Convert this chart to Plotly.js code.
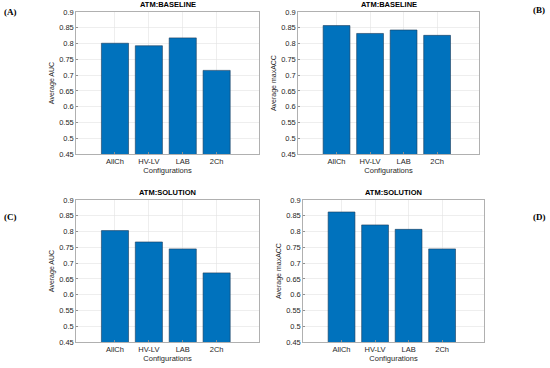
<!DOCTYPE html>
<html><head><meta charset="utf-8">
<script src="https://cdn.plot.ly/plotly-3.0.1.min.js"></script>
<style>html,body{margin:0;padding:0;background:#fff}#chart{width:550px;height:368px}</style>
</head><body><div id="chart"></div>
<script>
const categories = ["AllCh", "HV-LV", "LAB", "2Ch"];
const baselineAUC = [0.801, 0.793, 0.818, 0.715];
const baselineMaxACC = [0.857, 0.832, 0.843, 0.826];
const solutionAUC = [0.803, 0.767, 0.745, 0.669];
const solutionMaxACC = [0.862, 0.821, 0.807, 0.745];
const panelTitles = ["ATM:BASELINE", "ATM:BASELINE", "ATM:SOLUTION", "ATM:SOLUTION"];
const yTitles = ["Average AUC", "Average maxACC", "Average AUC", "Average maxACC"];
const panelLabels = ["(A)", "(B)", "(C)", "(D)"];
const yTicks = [0.45, 0.5, 0.55, 0.6, 0.65, 0.7, 0.75, 0.8, 0.85, 0.9];
const yTickText = ["0.45", "0.5", "0.55", "0.6", "0.65", "0.7", "0.75", "0.8", "0.85", "0.9"];

const series = [baselineAUC, baselineMaxACC, solutionAUC, solutionMaxACC];
const W = 550, H = 368;
const xDom = [[76, 259], [298, 479], [76, 259], [303, 484]];
const yDom = [[12, 154], [12, 154], [200, 342], [200, 342]];
const labelPos = [[10, 12], [539, 10], [10, 217], [539, 217]];

const font = "Liberation Sans, Arial, sans-serif";
const traces = [];
const layout = {
  width: W, height: H, margin: {l: 0, r: 0, t: 0, b: 0},
  paper_bgcolor: "#fff", plot_bgcolor: "#fff", showlegend: false,
  font: {family: font, size: 7.5, color: "#262626"},
  annotations: [], bargap: 0.2
};
series.forEach((vals, i) => {
  const n = i + 1;
  const xa = "x" + (n === 1 ? "" : n), ya = "y" + (n === 1 ? "" : n);
  traces.push({
    type: "bar", x: categories.map((c, k) => k), y: vals,
    xaxis: xa, yaxis: ya, width: 0.8,
    marker: {color: "#0072BD", line: {color: "#1a3a5a", width: 0.6}},
    hoverinfo: "skip"
  });
  const xk = "xaxis" + (n === 1 ? "" : n), yk = "yaxis" + (n === 1 ? "" : n);
  layout[xk] = {
    domain: [xDom[i][0] / W, xDom[i][1] / W], anchor: ya,
    range: [-1.15, 4.25], tickvals: [0, 1, 2, 3], ticktext: categories,
    showgrid: true, gridcolor: "#e3e3e3", gridwidth: 0.6,
    showline: true, mirror: true, linecolor: "#8f8f8f", linewidth: 0.7,
    ticks: "inside", ticklen: 2, tickcolor: "#8f8f8f",
    tickfont: {family: font, size: 7.5, color: "#262626"},
    title: {text: "Configurations", font: {family: font, size: 7.5, color: "#262626"}, standoff: 2},
    zeroline: false, fixedrange: true
  };
  layout[yk] = {
    domain: [1 - yDom[i][1] / H, 1 - yDom[i][0] / H], anchor: xa,
    range: [0.45, 0.9], tickvals: yTicks, ticktext: yTickText,
    showgrid: true, gridcolor: "#e3e3e3", gridwidth: 0.6,
    showline: true, mirror: true, linecolor: "#8f8f8f", linewidth: 0.7,
    ticks: "inside", ticklen: 2, tickcolor: "#8f8f8f",
    tickfont: {family: font, size: 7.5, color: "#262626"},
    title: {text: yTitles[i], font: {family: font, size: 7, color: "#262626"}, standoff: 3},
    zeroline: false, fixedrange: true
  };
  layout.annotations.push({
    text: "<b>" + panelTitles[i] + "</b>", xref: "paper", yref: "paper",
    x: (xDom[i][0] + xDom[i][1]) / 2 / W, y: 1 - (yDom[i][0] - 1) / H,
    xanchor: "center", yanchor: "bottom", showarrow: false,
    font: {family: font, size: 7.5, color: "#000"}
  });
  layout.annotations.push({
    text: "<b>" + panelLabels[i] + "</b>", xref: "paper", yref: "paper",
    x: labelPos[i][0] / W, y: 1 - labelPos[i][1] / H,
    xanchor: "center", yanchor: "middle", showarrow: false,
    font: {family: "Liberation Serif, Times New Roman, serif", size: 9, color: "#000"}
  });
});
Plotly.newPlot("chart", traces, layout, {staticPlot: true, displayModeBar: false});
</script></body></html>
